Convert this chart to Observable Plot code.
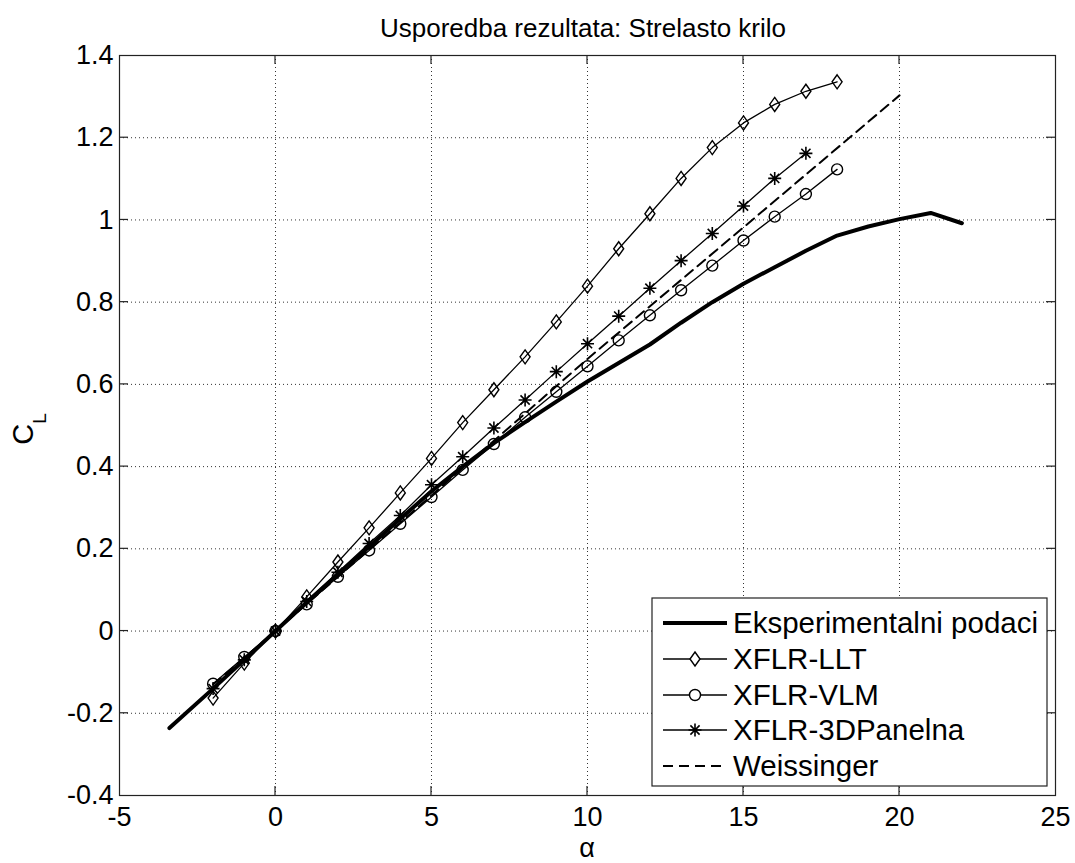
<!DOCTYPE html>
<html>
<head>
<meta charset="utf-8">
<script src="https://cdn.jsdelivr.net/npm/d3@7"></script>
<script src="https://cdn.jsdelivr.net/npm/@observablehq/plot@0.6"></script>
<style>
  html, body { margin: 0; padding: 0; background: #fff; }
  #chart svg { display: block; }
</style>
</head>
<body>
<div id="chart"></div>
<script>
// ---- Data ----
const titleText = "Usporedba rezultata: Strelasto krilo";
const xTicks = [-5, 0, 5, 10, 15, 20, 25];
const xTickLabels = ["-5", "0", "5", "10", "15", "20", "25"];
const yTicks = [-0.4, -0.2, 0, 0.2, 0.4, 0.6, 0.8, 1, 1.2, 1.4];
const yTickLabels = ["-0.4", "-0.2", "0", "0.2", "0.4", "0.6", "0.8", "1", "1.2", "1.4"];

const seriesNames = ["Eksperimentalni podaci", "XFLR-LLT", "XFLR-VLM", "XFLR-3DPanelna", "Weissinger"];

const alphaExp = [-3.4, -2, -1, 0, 1, 2, 3, 4, 5, 6, 7, 8, 9, 10, 11, 12, 13, 14, 15, 16, 17, 18, 19, 20, 21, 22];
const clExp    = [-0.236, -0.14, -0.07, 0, 0.07, 0.138, 0.205, 0.273, 0.34, 0.40, 0.457, 0.508, 0.558, 0.607, 0.652, 0.697, 0.75, 0.80, 0.845, 0.885, 0.925, 0.962, 0.984, 1.002, 1.017, 0.992];

const alphaLLT = [-2, -1, 0, 1, 2, 3, 4, 5, 6, 7, 8, 9, 10, 11, 12, 13, 14, 15, 16, 17, 18];
const clLLT    = [-0.163, -0.078, 0, 0.083, 0.168, 0.251, 0.336, 0.420, 0.507, 0.587, 0.667, 0.752, 0.839, 0.930, 1.015, 1.101, 1.176, 1.236, 1.281, 1.313, 1.336];

const alphaVLM = [-2, -1, 0, 1, 2, 3, 4, 5, 6, 7, 8, 9, 10, 11, 12, 13, 14, 15, 16, 17, 18];
const clVLM    = [-0.128, -0.063, 0, 0.065, 0.132, 0.196, 0.261, 0.326, 0.392, 0.455, 0.520, 0.582, 0.644, 0.707, 0.768, 0.829, 0.889, 0.950, 1.008, 1.063, 1.123];

const alphaPanel = [-2, -1, 0, 1, 2, 3, 4, 5, 6, 7, 8, 9, 10, 11, 12, 13, 14, 15, 16, 17];
const clPanel    = [-0.14, -0.07, 0, 0.072, 0.143, 0.213, 0.281, 0.356, 0.424, 0.494, 0.562, 0.631, 0.699, 0.766, 0.834, 0.901, 0.967, 1.034, 1.101, 1.162];

const alphaWeis = [-2, 0, 5, 10, 15, 20];
const clWeis    = [-0.13, 0, 0.33, 0.662, 0.982, 1.303];

// ---- Build tables ----
const toRows = (a, c) => a.map((x, i) => ({alpha: x, cl: c[i]}));
const expRows = toRows(alphaExp, clExp);
const lltRows = toRows(alphaLLT, clLLT);
const vlmRows = toRows(alphaVLM, clVLM);
const panelRows = toRows(alphaPanel, clPanel);
const weisRows = toRows(alphaWeis, clWeis);

// ---- Custom MATLAB-like marker symbols ----
const diamondSym = {draw(ctx) { const w = 5, h = 7; ctx.moveTo(0, -h); ctx.lineTo(w, 0); ctx.lineTo(0, h); ctx.lineTo(-w, 0); ctx.closePath(); }};
const asteriskSym = {draw(ctx) { const r = 6.5, d = r * Math.SQRT1_2;
  ctx.moveTo(-r, 0); ctx.lineTo(r, 0); ctx.moveTo(0, -r); ctx.lineTo(0, r);
  ctx.moveTo(-d, -d); ctx.lineTo(d, d); ctx.moveTo(-d, d); ctx.lineTo(d, -d); }};

const W = 1075, H = 863;
const mL = 119, mR = 20, mT = 55, mB = 68;
const font = "'Liberation Sans', Arial, Helvetica, sans-serif";

const plot = Plot.plot({
  width: W, height: H,
  marginLeft: mL, marginRight: mR, marginTop: mT, marginBottom: mB,
  style: {fontFamily: font, fontSize: "27px", background: "#fff", color: "#000"},
  x: {domain: [-5, 25]},
  y: {domain: [-0.4, 1.4]},
  marks: [
    Plot.gridX(xTicks.slice(1, -1), {stroke: "#000", strokeOpacity: 0.8, strokeDasharray: "1,3"}),
    Plot.gridY(yTicks.slice(1, -1), {stroke: "#000", strokeOpacity: 0.8, strokeDasharray: "1,3"}),
    Plot.axisX(xTicks, {tickSize: 0, tickPadding: 11, tickFormat: (d, i) => xTickLabels[i], label: null, fontSize: 27}),
    Plot.axisY(yTicks, {tickSize: 0, tickPadding: 6, tickFormat: (d, i) => yTickLabels[i], label: null, fontSize: 27}),
    Plot.line(expRows, {x: "alpha", y: "cl", stroke: "#000", strokeWidth: 4}),
    Plot.line(weisRows, {x: "alpha", y: "cl", stroke: "#000", strokeWidth: 2, strokeDasharray: "10,6"}),
    Plot.line(lltRows, {x: "alpha", y: "cl", stroke: "#000", strokeWidth: 1.3}),
    Plot.dot(lltRows, {x: "alpha", y: "cl", symbol: diamondSym, stroke: "#000", fill: "none", strokeWidth: 1.4}),
    Plot.line(vlmRows, {x: "alpha", y: "cl", stroke: "#000", strokeWidth: 1.3}),
    Plot.dot(vlmRows, {x: "alpha", y: "cl", r: 5.5, stroke: "#000", fill: "none", strokeWidth: 1.4}),
    Plot.line(panelRows, {x: "alpha", y: "cl", stroke: "#000", strokeWidth: 1.3}),
    Plot.dot(panelRows, {x: "alpha", y: "cl", symbol: asteriskSym, stroke: "#000", fill: "none", strokeWidth: 1.6}),
    Plot.frame({stroke: "#222", strokeWidth: 1.2})
  ]
});

document.getElementById("chart").appendChild(plot);

// ---- Extras: inward ticks, title, axis labels, legend ----
const sx = plot.scale("x"), sy = plot.scale("y");
const svg = d3.select(plot);
const pLeft = mL, pRight = W - mR, pTop = mT, pBottom = H - mB;
const tk = 9;
const tg = svg.append("g").attr("stroke", "#222").attr("stroke-width", 1.2);
xTicks.slice(1, -1).forEach(v => {
  const px = sx.apply(v);
  tg.append("line").attr("x1", px).attr("x2", px).attr("y1", pBottom).attr("y2", pBottom - tk);
  tg.append("line").attr("x1", px).attr("x2", px).attr("y1", pTop).attr("y2", pTop + tk);
});
yTicks.slice(1, -1).forEach(v => {
  const py = sy.apply(v);
  tg.append("line").attr("y1", py).attr("y2", py).attr("x1", pLeft).attr("x2", pLeft + tk);
  tg.append("line").attr("y1", py).attr("y2", py).attr("x1", pRight).attr("x2", pRight - tk);
});

const cx = (pLeft + pRight) / 2, cy = (pTop + pBottom) / 2;
svg.append("text").attr("x", cx - 4).attr("y", 37).attr("text-anchor", "middle")
  .attr("font-family", font).attr("font-size", 26).attr("fill", "#000").text(titleText);

svg.append("text").attr("x", cx).attr("y", 857).attr("text-anchor", "middle")
  .attr("font-family", font).attr("font-size", 27).attr("fill", "#000").text("α");

const yl = svg.append("text").attr("transform", `translate(33,${cy + 4}) rotate(-90)`)
  .attr("text-anchor", "middle").attr("font-family", font).attr("font-size", 29).attr("fill", "#000");
yl.append("tspan").text("C");
yl.append("tspan").attr("dy", 13).attr("font-size", 19).text("L");

// Legend
const lg = svg.append("g").attr("text-anchor", "start");
const lx0 = 652, ly0 = 598, lx1 = 1047, ly1 = 786;
lg.append("rect").attr("x", lx0).attr("y", ly0).attr("width", lx1 - lx0).attr("height", ly1 - ly0)
  .attr("fill", "#fff").attr("stroke", "#222").attr("stroke-width", 1.2);
const rowsY = [623, 659, 695, 730, 766];
const sampleX0 = 663, sampleX1 = 727, mx = 695;
const styles = [
  {w: 4, dash: null, marker: null},
  {w: 1.3, dash: null, marker: "diamond"},
  {w: 1.3, dash: null, marker: "circle"},
  {w: 1.3, dash: null, marker: "asterisk"},
  {w: 2, dash: "10,6", marker: null}
];
seriesNames.forEach((name, i) => {
  const y = rowsY[i], s = styles[i];
  const ln = lg.append("line").attr("x1", sampleX0).attr("x2", sampleX1).attr("y1", y).attr("y2", y)
    .attr("stroke", "#000").attr("stroke-width", s.w);
  if (s.dash) ln.attr("stroke-dasharray", s.dash);
  if (s.marker) {
    const p = d3.path();
    if (s.marker === "diamond") diamondSym.draw(p);
    else if (s.marker === "asterisk") asteriskSym.draw(p);
    else { p.moveTo(5.5, 0); p.arc(0, 0, 5.5, 0, 2 * Math.PI); }
    lg.append("path").attr("d", p.toString()).attr("transform", `translate(${mx},${y})`)
      .attr("fill", s.marker === "asterisk" ? "none" : "#fff").attr("stroke", "#000")
      .attr("stroke-width", s.marker === "asterisk" ? 1.6 : 1.4);
  }
  lg.append("text").attr("x", 733).attr("y", y).attr("dy", "0.35em").attr("text-anchor", "start")
    .attr("font-family", font).attr("font-size", 29.5).attr("fill", "#000").text(name);
});
</script>
</body>
</html>
